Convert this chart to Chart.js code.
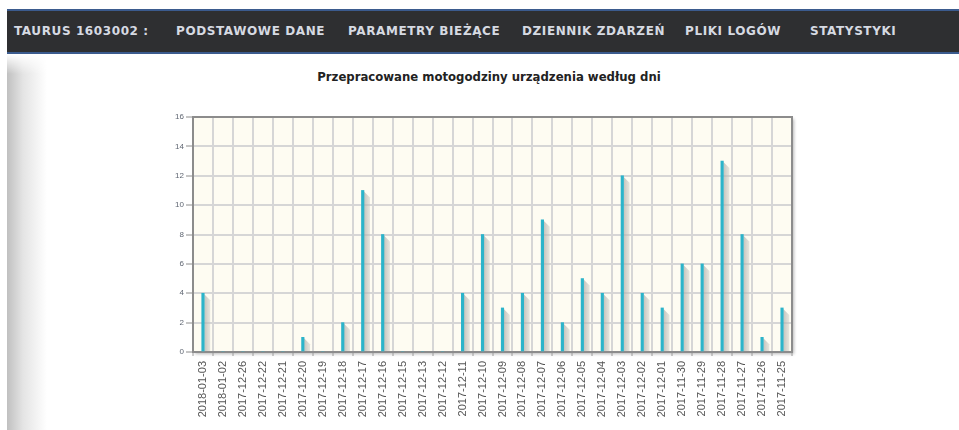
<!DOCTYPE html>
<html lang="pl">
<head>
<meta charset="utf-8">
<title>Statystyki</title>
<script src="https://cdn.jsdelivr.net/npm/chart.js@4/dist/chart.umd.min.js"></script>
<style>
    html, body { margin: 0; padding: 0; background: #fff; width: 959px; height: 430px; overflow: hidden; }
    #nav {
        position: absolute; left: 7px; top: 9px; width: 952px; height: 41px;
        background: #2e2f31;
        border-top: 2px solid #3b5b8e; border-bottom: 2px solid #3b5b8e;
    }
    #nav span {
        position: absolute; top: 13px;
        font: bold 12px "DejaVu Sans", Verdana, sans-serif;
        letter-spacing: 0.6px;
        color: #d6dae2; white-space: nowrap;
    }
    #leftShade {
        position: absolute; left: 7px; top: 54px; width: 40px; height: 376px;
        background: linear-gradient(to right, #c0c0c0, #e4e4e4 40%, #ffffff);
        -webkit-mask-image: linear-gradient(to bottom, transparent, #000 20px);
        mask-image: linear-gradient(to bottom, transparent, #000 20px);
    }
    #chartTitle {
        position: absolute; left: 289px; top: 70px; width: 400px; text-align: center;
        font: bold 11.7px "DejaVu Sans", Verdana, sans-serif; color: #222;
    }
    #chartBox { position: absolute; left: 150px; top: 60px; width: 670px; height: 370px; }
</style>
</head>
<body>
<div id="leftShade"></div>
<div id="nav">
    <span style="left:7px">TAURUS 1603002 :</span>
    <span style="left:169px">PODSTAWOWE DANE</span>
    <span style="left:341px">PARAMETRY BIEŻĄCE</span>
    <span style="left:515px">DZIENNIK ZDARZEŃ</span>
    <span style="left:678px">PLIKI LOGÓW</span>
    <span style="left:803px">STATYSTYKI</span>
</div>
<div id="chartTitle">Przepracowane motogodziny urządzenia według dni</div>
<div id="chartBox"><canvas id="chartCanvas" width="670" height="370"></canvas></div>

<script>
// dni (od najnowszego) i przepracowane motogodziny
const dayLabels = [
    '2018-01-03', '2018-01-02', '2017-12-26', '2017-12-22', '2017-12-21',
    '2017-12-20', '2017-12-19', '2017-12-18', '2017-12-17', '2017-12-16',
    '2017-12-15', '2017-12-13', '2017-12-12', '2017-12-11', '2017-12-10',
    '2017-12-09', '2017-12-08', '2017-12-07', '2017-12-06', '2017-12-05',
    '2017-12-04', '2017-12-03', '2017-12-02', '2017-12-01', '2017-11-30',
    '2017-11-29', '2017-11-28', '2017-11-27', '2017-11-26', '2017-11-25'
];
const hoursWorked = [
    4, 0, 0, 0, 0,
    1, 0, 2, 11, 8,
    0, 0, 0, 4, 8,
    3, 4, 9, 2, 5,
    4, 12, 4, 3, 6,
    6, 13, 8, 1, 3
];
const yMax = 16;
const yStep = 2;

// tło wykresu z cieniem + ramka góra/prawo
const framePlugin = {
    id: 'frame',
    beforeDraw(chart) {
        const { ctx, chartArea: a } = chart;
        ctx.save();
        ctx.shadowColor = 'rgba(0,0,0,0.28)';
        ctx.shadowOffsetX = 2;
        ctx.shadowOffsetY = 2;
        ctx.shadowBlur = 3;
        ctx.fillStyle = '#fefcf2';
        ctx.fillRect(a.left, a.top, a.right - a.left, a.bottom - a.top);
        ctx.restore();
    },
    afterDatasetsDraw(chart) {
        const { ctx, chartArea: a } = chart;
        ctx.save();
        ctx.strokeStyle = '#8c8c8c';
        ctx.lineWidth = 2;
        ctx.beginPath();
        ctx.moveTo(a.left, a.top);
        ctx.lineTo(a.right, a.top);
        ctx.lineTo(a.right, a.bottom);
        ctx.stroke();
        ctx.restore();
    }
};

// skośny cień obok każdego słupka
const barShadowPlugin = {
    id: 'barShadow',
    beforeDatasetsDraw(chart) {
        const { ctx } = chart;
        const meta = chart.getDatasetMeta(0);
        ctx.save();
        meta.data.forEach((bar) => {
            if (bar.base - bar.y < 1) return;
            const x0 = bar.x + bar.width / 2;
            const x1 = x0 + 6;
            const g = ctx.createLinearGradient(x0, 0, x1, 0);
            g.addColorStop(0, 'rgba(175,175,170,0.75)');
            g.addColorStop(1, 'rgba(200,200,195,0.45)');
            ctx.fillStyle = g;
            ctx.beginPath();
            ctx.moveTo(x0, bar.y + 1);
            ctx.lineTo(x1, Math.min(bar.y + 7, bar.base));
            ctx.lineTo(x1, bar.base);
            ctx.lineTo(x0, bar.base);
            ctx.closePath();
            ctx.fill();
        });
        ctx.restore();
    }
};

const ctx = document.getElementById('chartCanvas').getContext('2d');
const chartInstance = new Chart(ctx, {
    type: 'bar',
    data: {
        labels: dayLabels,
        datasets: [{
            label: 'Motogodziny',
            data: hoursWorked,
            backgroundColor: '#2cb4ca',
            barThickness: 2.5,
            borderWidth: 0
        }]
    },
    plugins: [framePlugin, barShadowPlugin],
    options: {
        responsive: false,
        animation: false,
        layout: { padding: { left: 0, right: 28, top: 57, bottom: 0 } },
        plugins: {
            legend: { display: false },
            tooltip: { enabled: false },
            title: { display: false }
        },
        scales: {
            x: {
                offset: true,
                afterFit(scale) { scale.height = 78; },
                grid: {
                    offset: true,
                    color: '#d6d6d6',
                    lineWidth: 2,
                    tickColor: '#9a9a9a',
                    tickLength: 4,
                    tickWidth: 1
                },
                border: { color: '#8c8c8c', width: 2 },
                ticks: {
                    autoSkip: false,
                    minRotation: 90,
                    maxRotation: 90,
                    padding: 5,
                    color: '#555',
                    font: { family: '"Liberation Sans", Arial, sans-serif', size: 11 }
                }
            },
            y: {
                min: 0,
                max: yMax,
                afterFit(scale) { scale.width = 43; },
                grid: {
                    color: '#d6d6d6',
                    lineWidth: 2,
                    tickColor: '#8c8c8c',
                    tickLength: 7,
                    tickWidth: 1
                },
                border: { color: '#8c8c8c', width: 2 },
                ticks: {
                    stepSize: yStep,
                    padding: 2,
                    color: '#5f6672',
                    font: { family: '"Liberation Sans", Arial, sans-serif', size: 8 }
                }
            }
        }
    }
});
</script>
</body>
</html>
